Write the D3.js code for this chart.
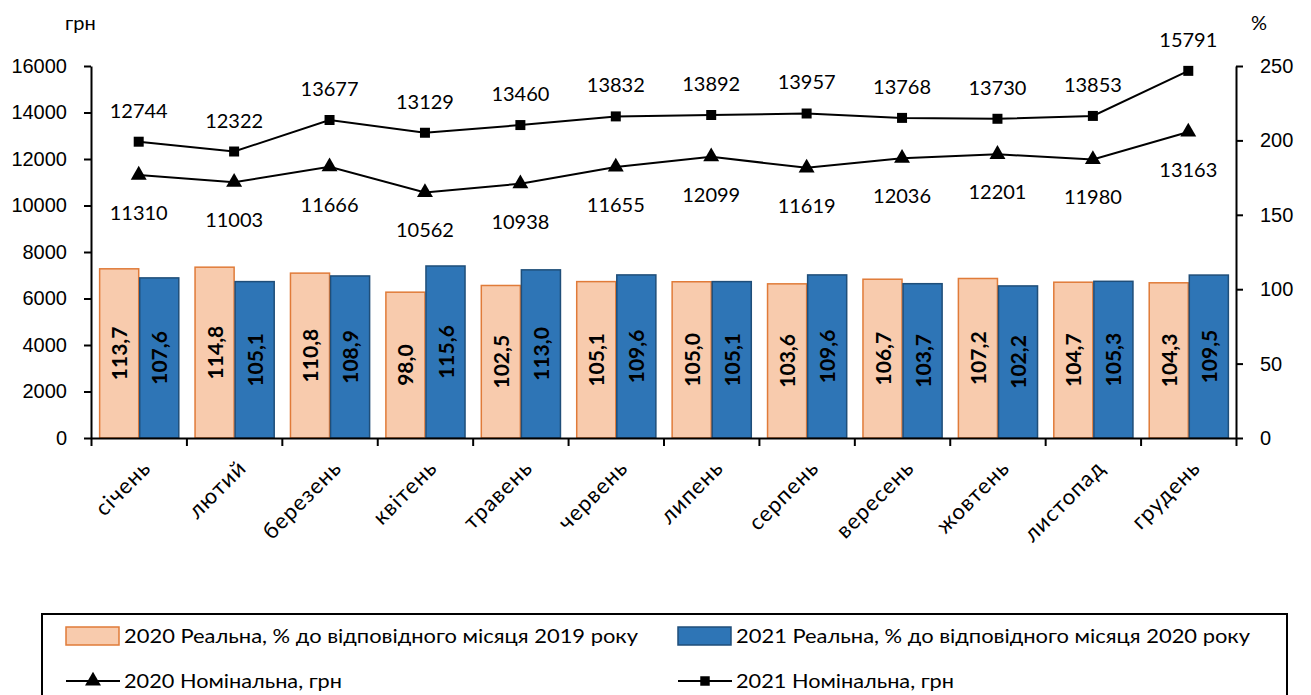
<!DOCTYPE html>
<html>
<head>
<meta charset="utf-8">
<script src="https://cdn.jsdelivr.net/npm/d3@7"></script>
<style>
  body { margin: 0; background: #fff; }
  svg { font-family: Lato, "Noto Sans", sans-serif; }
  .axis text { font-size: 20px; fill: #000; }
  .axis path, .axis line { stroke: #000; stroke-width: 2; }
</style>
</head>
<body>
<svg id="chart" width="1311" height="695"></svg>
<script>
var months = ["січень", "лютий", "березень", "квітень", "травень", "червень",
              "липень", "серпень", "вересень", "жовтень", "листопад", "грудень"];
var real2020 = [113.7, 114.8, 110.8, 98.0, 102.5, 105.1, 105.0, 103.6, 106.7, 107.2, 104.7, 104.3];
var real2021 = [107.6, 105.1, 108.9, 115.6, 113.0, 109.6, 105.1, 109.6, 103.7, 102.2, 105.3, 109.5];
var nom2020 = [11310, 11003, 11666, 10562, 10938, 11655, 12099, 11619, 12036, 12201, 11980, 13163];
var nom2021 = [12744, 12322, 13677, 13129, 13460, 13832, 13892, 13957, 13768, 13730, 13853, 15791];
var leftTicks = [0, 2000, 4000, 6000, 8000, 10000, 12000, 14000, 16000];
var rightTicks = [0, 50, 100, 150, 200, 250];
var legendLabels = ["2020 Реальна, % до відповідного місяця 2019 року",
                    "2021 Реальна, % до відповідного місяця 2020 року",
                    "2020 Номінальна, грн",
                    "2021 Номінальна, грн"];

var svg = d3.select("#chart");
var plotLeft = 91, plotRight = 1236, plotTop = 66, plotBottom = 438;

var x = d3.scaleBand().domain(months).range([plotLeft, plotRight]).paddingInner(0.16).paddingOuter(0.08);
var x1 = d3.scaleBand().domain([0, 1]).range([0, x.bandwidth()]);
var xEdge = d3.scaleLinear().domain([0, months.length]).range([plotLeft, plotRight]);
var yL = d3.scaleLinear().domain([0, 16000]).range([plotBottom, plotTop]);
var yR = d3.scaleLinear().domain([0, 250]).range([plotBottom, plotTop]);

// bars
var barColors = [{fill: "#F8CBAD", stroke: "#E07B39"}, {fill: "#2E75B6", stroke: "#1F4E79"}];
var series = [real2020, real2021];
series.forEach(function (vals, s) {
    var g = svg.append("g");
    g.selectAll("rect")
        .data(vals)
        .enter()
        .append("rect")
        .attr("x", function (d, i) { return x(months[i]) + x1(s) + 1; })
        .attr("y", function (d) { return yR(d); })
        .attr("width", x1.bandwidth() - 1)
        .attr("height", function (d) { return yR(0) - yR(d); })
        .attr("fill", barColors[s].fill)
        .attr("stroke", barColors[s].stroke)
        .attr("stroke-width", 1.5);
    g.selectAll("text")
        .data(vals)
        .enter()
        .append("text")
        .attr("transform", function (d, i) {
            var bx = x(months[i]) + x1(s) + x1.bandwidth() / 2 + 1;
            var by = (yR(d) + yR(0)) / 2;
            return "translate(" + bx + "," + by + ") rotate(-90)";
        })
        .attr("text-anchor", "middle")
        .attr("dy", "0.36em")
        .style("font-size", "21px")
        .style("font-weight", "bold")
        .text(function (d) { return d.toFixed(1).replace(".", ","); });
});

// axes
svg.append("g")
    .attr("class", "axis")
    .attr("transform", "translate(" + plotLeft + ",0)")
    .call(d3.axisLeft(yL).tickValues(leftTicks).tickFormat(d3.format("d"))
        .tickSize(7).tickSizeOuter(0).tickPadding(17));

svg.append("g")
    .attr("class", "axis")
    .attr("transform", "translate(" + plotRight + ",0)")
    .call(d3.axisRight(yR).tickValues(rightTicks).tickSize(7).tickSizeOuter(0).tickPadding(17));

svg.append("g")
    .attr("class", "axis")
    .attr("transform", "translate(0," + plotBottom + ")")
    .call(d3.axisBottom(xEdge).ticks(months.length).tickSize(8).tickSizeOuter(0).tickFormat(""));

svg.append("g")
    .selectAll("text")
    .data(months)
    .enter()
    .append("text")
    .attr("transform", function (d) {
        return "translate(" + (x(d) + x.bandwidth() / 2 + 8) + "," + (plotBottom + 26) + ") rotate(-45)";
    })
    .attr("text-anchor", "end")
    .attr("dy", "0.35em")
    .style("font-size", "22px")
    .style("letter-spacing", "1px")
    .text(function (d) { return d; });

svg.append("text").attr("x", 65).attr("y", 30).style("font-size", "20px").text("грн");
svg.append("text").attr("x", 1251).attr("y", 30).style("font-size", "20px").text("%");

// lines
var cx = function (d, i) { return x(months[i]) + x.bandwidth() / 2; };
var line = d3.line().x(cx).y(function (d) { return yL(d); });

[nom2020, nom2021].forEach(function (vals, s) {
    svg.append("path")
        .datum(vals)
        .attr("d", line)
        .attr("fill", "none")
        .attr("stroke", "#000")
        .attr("stroke-width", 2);
    svg.append("g").selectAll("path")
        .data(vals)
        .enter()
        .append("path")
        .attr("transform", function (d, i) { return "translate(" + cx(d, i) + "," + yL(d) + ")"; })
        .attr("d", d3.symbol().type(s === 0 ? d3.symbolTriangle : d3.symbolSquare).size(s === 0 ? 110 : 100))
        .attr("fill", "#000");
    svg.append("g").selectAll("text")
        .data(vals)
        .enter()
        .append("text")
        .attr("x", cx)
        .attr("y", function (d) { return yL(d) + (s === 0 ? 38 : -31); })
        .attr("dy", "0.35em")
        .attr("text-anchor", "middle")
        .style("font-size", "20px")
        .text(function (d) { return d; });
});

// legend
var legend = svg.append("g");
legend.append("rect")
    .attr("x", 42).attr("y", 614).attr("width", 1245).attr("height", 100)
    .attr("fill", "none").attr("stroke", "#000").attr("stroke-width", 2);

var legX = [66, 678];
var legY = [636, 681];
legendLabels.forEach(function (lab, i) {
    var lx = legX[i % 2], ly = legY[Math.floor(i / 2)];
    if (i < 2) {
        legend.append("rect")
            .attr("x", lx).attr("y", ly - 9).attr("width", 53).attr("height", 18)
            .attr("fill", barColors[i].fill).attr("stroke", barColors[i].stroke).attr("stroke-width", 1.5);
    } else {
        legend.append("line")
            .attr("x1", lx).attr("x2", lx + 54).attr("y1", ly).attr("y2", ly)
            .attr("stroke", "#000").attr("stroke-width", 2);
        legend.append("path")
            .attr("transform", "translate(" + (lx + 27) + "," + ly + ")")
            .attr("d", d3.symbol().type(i === 2 ? d3.symbolTriangle : d3.symbolSquare).size(i === 2 ? 110 : 90))
            .attr("fill", "#000");
    }
    legend.append("text")
        .attr("x", lx + 58).attr("y", ly).attr("dy", "0.35em")
        .style("font-size", "20px")
        .attr("textLength", i < 2 ? 514 : 218)
        .attr("lengthAdjust", "spacingAndGlyphs")
        .text(lab);
});
</script>
</body>
</html>
